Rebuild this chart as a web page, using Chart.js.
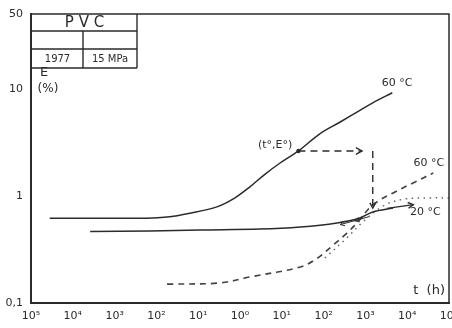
<!DOCTYPE html>
<html>
<head>
<meta charset="utf-8">
<script src="https://cdn.jsdelivr.net/npm/chart.js@4.4.1/dist/chart.umd.min.js"></script>
<style>
html,body{margin:0;padding:0;background:#fff;}
#wrap{width:452px;height:328px;}
</style>
</head>
<body>
<div id="wrap"><canvas id="c" width="452" height="328"></canvas></div>
<script>
// ---- data (t in hours, E in %) ----
const tTicks = [1e-5,1e-4,1e-3,1e-2,1e-1,1,10,100,1000,10000,100000];
const tLabels = ['10⁵','10⁴','10³','10²','10¹','10⁰','10¹','10²','10³','10⁴','10⁵'];
const eTicks = [0.1,1,10,50];
const eLabels = ['0,1','1','10','50'];

// 60 °C creep curve (solid, upper)
const t60 = [2.8e-5,0.006,0.018,0.063,0.28,0.76,1.7,4.0,9.1,25,81,250,740,1500,4400];
const e60 = [0.62,0.62,0.635,0.69,0.79,0.96,1.21,1.6,2.03,2.63,3.8,4.9,6.3,7.4,9.2];

// 20 °C creep curve (solid, lower)
const t20 = [2.6e-4,0.007,0.11,3.0,28,210,740,1500,4600];
const e20 = [0.466,0.471,0.481,0.49,0.513,0.56,0.623,0.709,0.772];

// 60 °C shifted curve (dashed)
const t60s = [0.018,0.33,1.7,28,69,170,360,630,1500,5100,15500,42000];
const e60s = [0.15,0.154,0.175,0.217,0.26,0.348,0.45,0.56,0.824,1.09,1.35,1.64];

// dotted curve
const tDot = [107,320,980,2950,8900,35000,100000];
const eDot = [0.263,0.388,0.596,0.824,0.937,0.958,0.958];

// reference point (t°, E°) and construction arrows
const refPoint = {t:25, e:2.63};
const hArrowEndT = 830;
const vArrowT = 1500;
const vArrowEndE = 0.77;
const leftArrowsT = [[740,0.605,250,0.54],[1200,0.64,560,0.585]];
const rightArrow = [3300,0.765,14000,0.83];

// curve labels
const curveLabels = [
  {text:'60 °C', t:5700, e:11.4},
  {text:'60 °C', t:33000, e:2.03},
  {text:'20 °C', t:27000, e:0.71},
  {text:'(t°,E°)', t:6.9, e:3.0}
];

const toXY = (ts, es) => ts.map((t,i)=>({x:t, y:es[i]}));
const INK = '#2b2b2b';

const deco = {
  id:'deco',
  afterDatasetsDraw(chart){
    const ctx = chart.ctx, a = chart.chartArea;
    const xs = chart.scales.x, ys = chart.scales.y;
    const X = v=>xs.getPixelForValue(v), Y = v=>ys.getPixelForValue(v);
    ctx.save();
    // frame top/right
    ctx.strokeStyle = INK; ctx.lineWidth = 1.5;
    ctx.beginPath();
    ctx.moveTo(a.left, a.top); ctx.lineTo(a.right, a.top); ctx.lineTo(a.right, a.bottom);
    ctx.stroke();

    // table
    const tl = a.left+1, tr = a.left+106, r1 = a.top, r2 = a.top+17, r3 = a.top+35, r4 = a.top+54, mid = a.left+52;
    ctx.lineWidth = 1.4;
    ctx.beginPath();
    ctx.moveTo(tl, r2); ctx.lineTo(tr, r2);
    ctx.moveTo(tl, r3); ctx.lineTo(tr, r3);
    ctx.moveTo(tl, r4); ctx.lineTo(tr, r4);
    ctx.moveTo(tr, r1); ctx.lineTo(tr, r4);
    ctx.moveTo(mid, r2); ctx.lineTo(mid, r4);
    ctx.stroke();
    ctx.fillStyle = INK;
    ctx.textAlign = 'center'; ctx.textBaseline = 'middle';
    ctx.font = '15px "DejaVu Sans"';
    ctx.fillText('P V C', (tl+tr)/2, (r1+r2)/2+1);
    ctx.font = '10px "DejaVu Sans"';
    ctx.fillText('1977', (tl+mid)/2, (r3+r4)/2+1);
    ctx.fillText('15 MPa', (mid+tr)/2, (r3+r4)/2+1);

    // axis titles
    ctx.font = '13px "DejaVu Sans"';
    ctx.fillText('E', a.left+13, a.top+59);
    ctx.font = '12px "DejaVu Sans"';
    ctx.fillText('(%)', a.left+17, a.top+75);
    ctx.font = '13px "DejaVu Sans"';
    ctx.textAlign = 'right';
    ctx.fillText('t  (h)', a.right-4, a.bottom-12);

    // curve labels
    ctx.textAlign = 'center';
    ctx.font = '11px "DejaVu Sans"';
    curveLabels.forEach(l=>ctx.fillText(l.text, X(l.t), Y(l.e)));

    // construction arrows
    const head = (x1,y1,x2,y2,s)=>{
      const ang = Math.atan2(y2-y1, x2-x1);
      ctx.setLineDash([]);
      ctx.beginPath();
      ctx.moveTo(x2 - s*Math.cos(ang-0.5), y2 - s*Math.sin(ang-0.5));
      ctx.lineTo(x2, y2);
      ctx.lineTo(x2 - s*Math.cos(ang+0.5), y2 - s*Math.sin(ang+0.5));
      ctx.stroke();
    };
    ctx.lineWidth = 1.4;
    ctx.setLineDash([7,5]);
    const px = X(refPoint.t), py = Y(refPoint.e);
    ctx.beginPath(); ctx.moveTo(px, py); ctx.lineTo(X(hArrowEndT), py); ctx.stroke();
    head(px, py, X(hArrowEndT), py, 7);
    ctx.setLineDash([7,5]);
    ctx.beginPath(); ctx.moveTo(X(vArrowT), py); ctx.lineTo(X(vArrowT), Y(vArrowEndE)); ctx.stroke();
    head(X(vArrowT), py, X(vArrowT), Y(vArrowEndE), 6);
    // arrows along 20 °C curve
    ctx.lineWidth = 1;
    leftArrowsT.forEach(r=>{
      ctx.setLineDash([]);
      ctx.beginPath(); ctx.moveTo(X(r[0]),Y(r[1])); ctx.lineTo(X(r[2]),Y(r[3])); ctx.stroke();
      head(X(r[0]),Y(r[1]),X(r[2]),Y(r[3]),5);
    });
    ctx.lineWidth = 1.4;
    ctx.beginPath(); ctx.moveTo(X(rightArrow[0]),Y(rightArrow[1])); ctx.lineTo(X(rightArrow[2]),Y(rightArrow[3])); ctx.stroke();
    head(X(rightArrow[0]),Y(rightArrow[1]),X(rightArrow[2]),Y(rightArrow[3]),6);
    // reference point marker
    ctx.fillStyle = INK;
    ctx.beginPath(); ctx.arc(px, py, 2.2, 0, Math.PI*2); ctx.fill();
    ctx.restore();
  }
};

new Chart(document.getElementById('c'), {
  type:'line',
  data:{datasets:[
    {data:toXY(t60,e60), borderColor:INK, borderWidth:1.5, tension:0.35, pointRadius:0},
    {data:toXY(t20,e20), borderColor:INK, borderWidth:1.5, tension:0.35, pointRadius:0},
    {data:toXY(t60s,e60s), borderColor:'#444', borderWidth:1.7, borderDash:[6,5], tension:0.35, pointRadius:0},
    {data:toXY(tDot,eDot), borderColor:'#666', borderWidth:1.5, borderDash:[1.5,4.5], tension:0.35, pointRadius:0}
  ]},
  options:{
    responsive:false, animation:false, devicePixelRatio:1,
    layout:{padding:{top:14,right:3,left:0,bottom:0}},
    plugins:{legend:{display:false}, tooltip:{enabled:false}},
    scales:{
      x:{type:'logarithmic', min:1e-5, max:1e5,
         afterBuildTicks:s=>{s.ticks = tTicks.map(v=>({value:v}));},
         afterFit:s=>{s.height=25; s.paddingLeft=0; s.paddingRight=0;},
         grid:{display:false, drawTicks:false},
         border:{display:true,color:INK,width:2},
         ticks:{autoSkip:false,maxRotation:0,color:INK,padding:7,
                font:{family:'DejaVu Sans',size:11},
                callback:(v,i)=>tLabels[i]}},
      y:{type:'logarithmic', min:0.1, max:50,
         afterBuildTicks:s=>{s.ticks = eTicks.map(v=>({value:v}));},
         afterFit:s=>{s.width=31; s.paddingTop=0; s.paddingBottom=0;},
         grid:{display:false, drawTicks:false},
         border:{display:true,color:INK,width:2},
         ticks:{autoSkip:false,color:INK,padding:8,
                font:{family:'DejaVu Sans',size:11},
                callback:(v,i)=>eLabels[i]}}
    }
  },
  plugins:[deco]
});
</script>
</body>
</html>
